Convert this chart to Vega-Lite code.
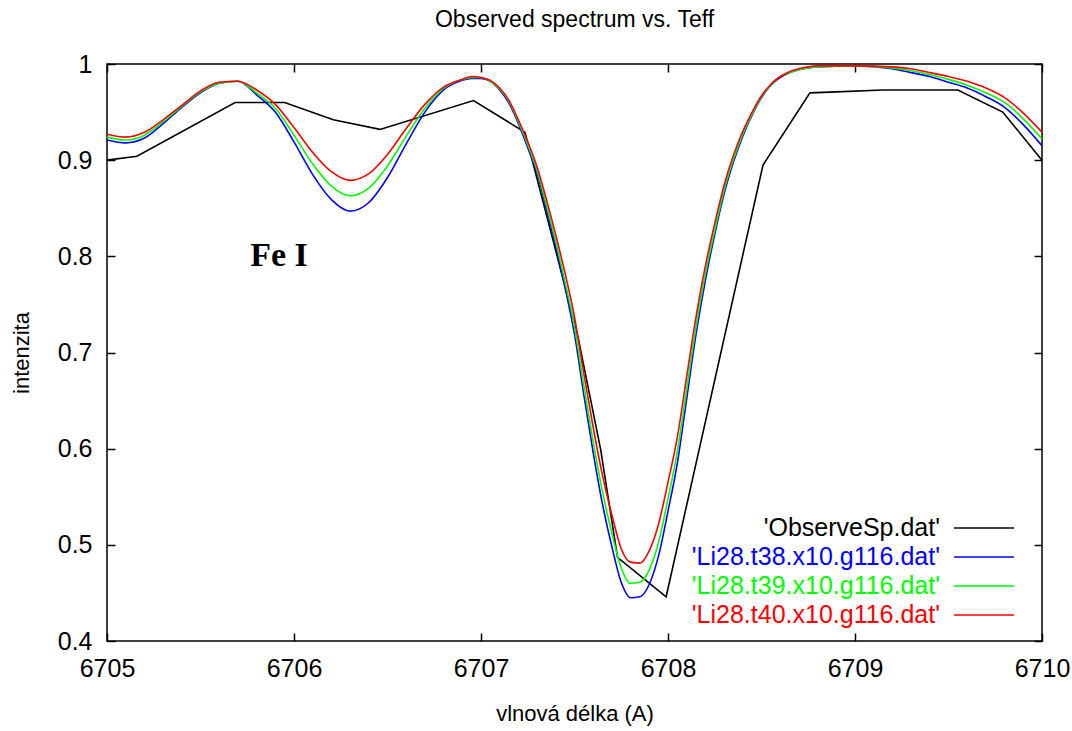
{
 "$schema": "https://vega.github.io/schema/vega-lite/v6.json",
 "width": 935, "height": 577,
 "autosize": "none",
 "padding": {"left": 107, "top": 64, "right": 30, "bottom": 90},
 "background": "white",
 "title": {"text": "Observed spectrum vs. Teff", "font": "Liberation Sans", "fontSize": 23, "fontWeight": "normal", "color": "black", "offset": 20},
 "config": {
  "view": {"stroke": "black", "strokeWidth": 1.5},
  "axis": {"grid": false, "domain": false, "tickColor": "black", "tickSize": -8, "tickWidth": 1.5, "labelFlush": false, "labelFont": "Liberation Sans", "labelFontSize": 25, "labelColor": "black", "titleFont": "Liberation Sans", "titleFontSize": 22, "titleFontWeight": "normal", "titleColor": "black"}
 },
 "resolve": {"axis": {"x": "independent", "y": "independent"}},
 "datasets": {
  "spec": [
   {"s": "'ObserveSp.dat'", "x": 6705.00, "y": 0.900}, {"s": "'ObserveSp.dat'", "x": 6705.16, "y": 0.904}, {"s": "'ObserveSp.dat'", "x": 6705.685, "y": 0.960}, {"s": "'ObserveSp.dat'", "x": 6705.95, "y": 0.960}, {"s": "'ObserveSp.dat'", "x": 6706.21, "y": 0.942}, {"s": "'ObserveSp.dat'", "x": 6706.46, "y": 0.932}, {"s": "'ObserveSp.dat'", "x": 6706.96, "y": 0.962}, {"s": "'ObserveSp.dat'", "x": 6707.235, "y": 0.929}, {"s": "'ObserveSp.dat'", "x": 6707.385, "y": 0.817}, {"s": "'ObserveSp.dat'", "x": 6707.52, "y": 0.715}, {"s": "'ObserveSp.dat'", "x": 6707.64, "y": 0.599}, {"s": "'ObserveSp.dat'", "x": 6707.73, "y": 0.487}, {"s": "'ObserveSp.dat'", "x": 6707.99, "y": 0.446}, {"s": "'ObserveSp.dat'", "x": 6708.508, "y": 0.895}, {"s": "'ObserveSp.dat'", "x": 6708.759, "y": 0.970}, {"s": "'ObserveSp.dat'", "x": 6708.90, "y": 0.971}, {"s": "'ObserveSp.dat'", "x": 6709.15, "y": 0.973}, {"s": "'ObserveSp.dat'", "x": 6709.55, "y": 0.973}, {"s": "'ObserveSp.dat'", "x": 6709.79, "y": 0.950}, {"s": "'ObserveSp.dat'", "x": 6710.00, "y": 0.900}
  ],
  "models": [
   {"s": "'Li28.t38.x10.g116.dat'", "x": 6705.0, "y": 0.921}, {"s": "'Li28.t38.x10.g116.dat'", "x": 6705.1, "y": 0.918}, {"s": "'Li28.t38.x10.g116.dat'", "x": 6705.2, "y": 0.923}, {"s": "'Li28.t38.x10.g116.dat'", "x": 6705.3, "y": 0.938}, {"s": "'Li28.t38.x10.g116.dat'", "x": 6705.4, "y": 0.955}, {"s": "'Li28.t38.x10.g116.dat'", "x": 6705.5, "y": 0.970}, {"s": "'Li28.t38.x10.g116.dat'", "x": 6705.6, "y": 0.980}, {"s": "'Li28.t38.x10.g116.dat'", "x": 6705.7, "y": 0.982}, {"s": "'Li28.t38.x10.g116.dat'", "x": 6705.8, "y": 0.968}, {"s": "'Li28.t38.x10.g116.dat'", "x": 6705.9, "y": 0.950}, {"s": "'Li28.t38.x10.g116.dat'", "x": 6706.0, "y": 0.919}, {"s": "'Li28.t38.x10.g116.dat'", "x": 6706.1, "y": 0.885}, {"s": "'Li28.t38.x10.g116.dat'", "x": 6706.2, "y": 0.859}, {"s": "'Li28.t38.x10.g116.dat'", "x": 6706.3, "y": 0.847}, {"s": "'Li28.t38.x10.g116.dat'", "x": 6706.4, "y": 0.856}, {"s": "'Li28.t38.x10.g116.dat'", "x": 6706.5, "y": 0.882}, {"s": "'Li28.t38.x10.g116.dat'", "x": 6706.6, "y": 0.917}, {"s": "'Li28.t38.x10.g116.dat'", "x": 6706.7, "y": 0.950}, {"s": "'Li28.t38.x10.g116.dat'", "x": 6706.8, "y": 0.973}, {"s": "'Li28.t38.x10.g116.dat'", "x": 6706.9, "y": 0.983}, {"s": "'Li28.t38.x10.g116.dat'", "x": 6706.95, "y": 0.985}, {"s": "'Li28.t38.x10.g116.dat'", "x": 6707.00, "y": 0.985}, {"s": "'Li28.t38.x10.g116.dat'", "x": 6707.05, "y": 0.982}, {"s": "'Li28.t38.x10.g116.dat'", "x": 6707.10, "y": 0.973}, {"s": "'Li28.t38.x10.g116.dat'", "x": 6707.15, "y": 0.959}, {"s": "'Li28.t38.x10.g116.dat'", "x": 6707.20, "y": 0.938}, {"s": "'Li28.t38.x10.g116.dat'", "x": 6707.25, "y": 0.913}, {"s": "'Li28.t38.x10.g116.dat'", "x": 6707.30, "y": 0.886}, {"s": "'Li28.t38.x10.g116.dat'", "x": 6707.35, "y": 0.849}, {"s": "'Li28.t38.x10.g116.dat'", "x": 6707.40, "y": 0.810}, {"s": "'Li28.t38.x10.g116.dat'", "x": 6707.45, "y": 0.767}, {"s": "'Li28.t38.x10.g116.dat'", "x": 6707.50, "y": 0.719}, {"s": "'Li28.t38.x10.g116.dat'", "x": 6707.55, "y": 0.656}, {"s": "'Li28.t38.x10.g116.dat'", "x": 6707.60, "y": 0.596}, {"s": "'Li28.t38.x10.g116.dat'", "x": 6707.65, "y": 0.542}, {"s": "'Li28.t38.x10.g116.dat'", "x": 6707.70, "y": 0.498}, {"s": "'Li28.t38.x10.g116.dat'", "x": 6707.75, "y": 0.461}, {"s": "'Li28.t38.x10.g116.dat'", "x": 6707.80, "y": 0.445}, {"s": "'Li28.t38.x10.g116.dat'", "x": 6707.85, "y": 0.446}, {"s": "'Li28.t38.x10.g116.dat'", "x": 6707.90, "y": 0.459}, {"s": "'Li28.t38.x10.g116.dat'", "x": 6707.95, "y": 0.489}, {"s": "'Li28.t38.x10.g116.dat'", "x": 6708.00, "y": 0.535}, {"s": "'Li28.t38.x10.g116.dat'", "x": 6708.05, "y": 0.585}, {"s": "'Li28.t38.x10.g116.dat'", "x": 6708.10, "y": 0.652}, {"s": "'Li28.t38.x10.g116.dat'", "x": 6708.15, "y": 0.719}, {"s": "'Li28.t38.x10.g116.dat'", "x": 6708.20, "y": 0.775}, {"s": "'Li28.t38.x10.g116.dat'", "x": 6708.25, "y": 0.823}, {"s": "'Li28.t38.x10.g116.dat'", "x": 6708.30, "y": 0.865}, {"s": "'Li28.t38.x10.g116.dat'", "x": 6708.35, "y": 0.898}, {"s": "'Li28.t38.x10.g116.dat'", "x": 6708.40, "y": 0.925}, {"s": "'Li28.t38.x10.g116.dat'", "x": 6708.45, "y": 0.947}, {"s": "'Li28.t38.x10.g116.dat'", "x": 6708.50, "y": 0.965}, {"s": "'Li28.t38.x10.g116.dat'", "x": 6708.55, "y": 0.978}, {"s": "'Li28.t38.x10.g116.dat'", "x": 6708.60, "y": 0.986}, {"s": "'Li28.t38.x10.g116.dat'", "x": 6708.65, "y": 0.991}, {"s": "'Li28.t38.x10.g116.dat'", "x": 6708.70, "y": 0.994}, {"s": "'Li28.t38.x10.g116.dat'", "x": 6708.75, "y": 0.996}, {"s": "'Li28.t38.x10.g116.dat'", "x": 6708.80, "y": 0.997}, {"s": "'Li28.t38.x10.g116.dat'", "x": 6709.00, "y": 0.998}, {"s": "'Li28.t38.x10.g116.dat'", "x": 6709.20, "y": 0.995}, {"s": "'Li28.t38.x10.g116.dat'", "x": 6709.30, "y": 0.991}, {"s": "'Li28.t38.x10.g116.dat'", "x": 6709.40, "y": 0.987}, {"s": "'Li28.t38.x10.g116.dat'", "x": 6709.50, "y": 0.981}, {"s": "'Li28.t38.x10.g116.dat'", "x": 6709.60, "y": 0.975}, {"s": "'Li28.t38.x10.g116.dat'", "x": 6709.70, "y": 0.966}, {"s": "'Li28.t38.x10.g116.dat'", "x": 6709.80, "y": 0.955}, {"s": "'Li28.t38.x10.g116.dat'", "x": 6709.90, "y": 0.937}, {"s": "'Li28.t38.x10.g116.dat'", "x": 6710.00, "y": 0.915},

   {"s": "'Li28.t39.x10.g116.dat'", "x": 6705.0, "y": 0.924}, {"s": "'Li28.t39.x10.g116.dat'", "x": 6705.1, "y": 0.921}, {"s": "'Li28.t39.x10.g116.dat'", "x": 6705.2, "y": 0.926}, {"s": "'Li28.t39.x10.g116.dat'", "x": 6705.3, "y": 0.940}, {"s": "'Li28.t39.x10.g116.dat'", "x": 6705.4, "y": 0.956}, {"s": "'Li28.t39.x10.g116.dat'", "x": 6705.5, "y": 0.971}, {"s": "'Li28.t39.x10.g116.dat'", "x": 6705.6, "y": 0.980}, {"s": "'Li28.t39.x10.g116.dat'", "x": 6705.7, "y": 0.982}, {"s": "'Li28.t39.x10.g116.dat'", "x": 6705.8, "y": 0.970}, {"s": "'Li28.t39.x10.g116.dat'", "x": 6705.9, "y": 0.954}, {"s": "'Li28.t39.x10.g116.dat'", "x": 6706.0, "y": 0.926}, {"s": "'Li28.t39.x10.g116.dat'", "x": 6706.1, "y": 0.896}, {"s": "'Li28.t39.x10.g116.dat'", "x": 6706.2, "y": 0.873}, {"s": "'Li28.t39.x10.g116.dat'", "x": 6706.3, "y": 0.863}, {"s": "'Li28.t39.x10.g116.dat'", "x": 6706.4, "y": 0.871}, {"s": "'Li28.t39.x10.g116.dat'", "x": 6706.5, "y": 0.894}, {"s": "'Li28.t39.x10.g116.dat'", "x": 6706.6, "y": 0.925}, {"s": "'Li28.t39.x10.g116.dat'", "x": 6706.7, "y": 0.954}, {"s": "'Li28.t39.x10.g116.dat'", "x": 6706.8, "y": 0.975}, {"s": "'Li28.t39.x10.g116.dat'", "x": 6706.9, "y": 0.984}, {"s": "'Li28.t39.x10.g116.dat'", "x": 6706.95, "y": 0.986}, {"s": "'Li28.t39.x10.g116.dat'", "x": 6707.00, "y": 0.986}, {"s": "'Li28.t39.x10.g116.dat'", "x": 6707.05, "y": 0.982}, {"s": "'Li28.t39.x10.g116.dat'", "x": 6707.10, "y": 0.974}, {"s": "'Li28.t39.x10.g116.dat'", "x": 6707.15, "y": 0.961}, {"s": "'Li28.t39.x10.g116.dat'", "x": 6707.20, "y": 0.940}, {"s": "'Li28.t39.x10.g116.dat'", "x": 6707.25, "y": 0.916}, {"s": "'Li28.t39.x10.g116.dat'", "x": 6707.30, "y": 0.889}, {"s": "'Li28.t39.x10.g116.dat'", "x": 6707.35, "y": 0.853}, {"s": "'Li28.t39.x10.g116.dat'", "x": 6707.40, "y": 0.815}, {"s": "'Li28.t39.x10.g116.dat'", "x": 6707.45, "y": 0.773}, {"s": "'Li28.t39.x10.g116.dat'", "x": 6707.50, "y": 0.727}, {"s": "'Li28.t39.x10.g116.dat'", "x": 6707.55, "y": 0.665}, {"s": "'Li28.t39.x10.g116.dat'", "x": 6707.60, "y": 0.607}, {"s": "'Li28.t39.x10.g116.dat'", "x": 6707.65, "y": 0.555}, {"s": "'Li28.t39.x10.g116.dat'", "x": 6707.70, "y": 0.512}, {"s": "'Li28.t39.x10.g116.dat'", "x": 6707.75, "y": 0.476}, {"s": "'Li28.t39.x10.g116.dat'", "x": 6707.80, "y": 0.460}, {"s": "'Li28.t39.x10.g116.dat'", "x": 6707.85, "y": 0.461}, {"s": "'Li28.t39.x10.g116.dat'", "x": 6707.90, "y": 0.474}, {"s": "'Li28.t39.x10.g116.dat'", "x": 6707.95, "y": 0.503}, {"s": "'Li28.t39.x10.g116.dat'", "x": 6708.00, "y": 0.548}, {"s": "'Li28.t39.x10.g116.dat'", "x": 6708.05, "y": 0.597}, {"s": "'Li28.t39.x10.g116.dat'", "x": 6708.10, "y": 0.662}, {"s": "'Li28.t39.x10.g116.dat'", "x": 6708.15, "y": 0.727}, {"s": "'Li28.t39.x10.g116.dat'", "x": 6708.20, "y": 0.782}, {"s": "'Li28.t39.x10.g116.dat'", "x": 6708.25, "y": 0.827}, {"s": "'Li28.t39.x10.g116.dat'", "x": 6708.30, "y": 0.869}, {"s": "'Li28.t39.x10.g116.dat'", "x": 6708.35, "y": 0.901}, {"s": "'Li28.t39.x10.g116.dat'", "x": 6708.40, "y": 0.927}, {"s": "'Li28.t39.x10.g116.dat'", "x": 6708.45, "y": 0.948}, {"s": "'Li28.t39.x10.g116.dat'", "x": 6708.50, "y": 0.966}, {"s": "'Li28.t39.x10.g116.dat'", "x": 6708.55, "y": 0.978}, {"s": "'Li28.t39.x10.g116.dat'", "x": 6708.60, "y": 0.987}, {"s": "'Li28.t39.x10.g116.dat'", "x": 6708.65, "y": 0.991}, {"s": "'Li28.t39.x10.g116.dat'", "x": 6708.70, "y": 0.994}, {"s": "'Li28.t39.x10.g116.dat'", "x": 6708.75, "y": 0.996}, {"s": "'Li28.t39.x10.g116.dat'", "x": 6708.80, "y": 0.997}, {"s": "'Li28.t39.x10.g116.dat'", "x": 6709.00, "y": 0.998}, {"s": "'Li28.t39.x10.g116.dat'", "x": 6709.20, "y": 0.996}, {"s": "'Li28.t39.x10.g116.dat'", "x": 6709.30, "y": 0.993}, {"s": "'Li28.t39.x10.g116.dat'", "x": 6709.40, "y": 0.989}, {"s": "'Li28.t39.x10.g116.dat'", "x": 6709.50, "y": 0.984}, {"s": "'Li28.t39.x10.g116.dat'", "x": 6709.60, "y": 0.978}, {"s": "'Li28.t39.x10.g116.dat'", "x": 6709.70, "y": 0.970}, {"s": "'Li28.t39.x10.g116.dat'", "x": 6709.80, "y": 0.960}, {"s": "'Li28.t39.x10.g116.dat'", "x": 6709.90, "y": 0.943}, {"s": "'Li28.t39.x10.g116.dat'", "x": 6710.00, "y": 0.922},

   {"s": "'Li28.t40.x10.g116.dat'", "x": 6705.0, "y": 0.927}, {"s": "'Li28.t40.x10.g116.dat'", "x": 6705.1, "y": 0.924}, {"s": "'Li28.t40.x10.g116.dat'", "x": 6705.2, "y": 0.929}, {"s": "'Li28.t40.x10.g116.dat'", "x": 6705.3, "y": 0.942}, {"s": "'Li28.t40.x10.g116.dat'", "x": 6705.4, "y": 0.957}, {"s": "'Li28.t40.x10.g116.dat'", "x": 6705.5, "y": 0.972}, {"s": "'Li28.t40.x10.g116.dat'", "x": 6705.6, "y": 0.981}, {"s": "'Li28.t40.x10.g116.dat'", "x": 6705.7, "y": 0.982}, {"s": "'Li28.t40.x10.g116.dat'", "x": 6705.8, "y": 0.973}, {"s": "'Li28.t40.x10.g116.dat'", "x": 6705.9, "y": 0.958}, {"s": "'Li28.t40.x10.g116.dat'", "x": 6706.0, "y": 0.934}, {"s": "'Li28.t40.x10.g116.dat'", "x": 6706.1, "y": 0.908}, {"s": "'Li28.t40.x10.g116.dat'", "x": 6706.2, "y": 0.888}, {"s": "'Li28.t40.x10.g116.dat'", "x": 6706.3, "y": 0.879}, {"s": "'Li28.t40.x10.g116.dat'", "x": 6706.4, "y": 0.886}, {"s": "'Li28.t40.x10.g116.dat'", "x": 6706.5, "y": 0.906}, {"s": "'Li28.t40.x10.g116.dat'", "x": 6706.6, "y": 0.933}, {"s": "'Li28.t40.x10.g116.dat'", "x": 6706.7, "y": 0.958}, {"s": "'Li28.t40.x10.g116.dat'", "x": 6706.8, "y": 0.976}, {"s": "'Li28.t40.x10.g116.dat'", "x": 6706.9, "y": 0.984}, {"s": "'Li28.t40.x10.g116.dat'", "x": 6706.95, "y": 0.987}, {"s": "'Li28.t40.x10.g116.dat'", "x": 6707.00, "y": 0.986}, {"s": "'Li28.t40.x10.g116.dat'", "x": 6707.05, "y": 0.983}, {"s": "'Li28.t40.x10.g116.dat'", "x": 6707.10, "y": 0.975}, {"s": "'Li28.t40.x10.g116.dat'", "x": 6707.15, "y": 0.962}, {"s": "'Li28.t40.x10.g116.dat'", "x": 6707.20, "y": 0.942}, {"s": "'Li28.t40.x10.g116.dat'", "x": 6707.25, "y": 0.919}, {"s": "'Li28.t40.x10.g116.dat'", "x": 6707.30, "y": 0.893}, {"s": "'Li28.t40.x10.g116.dat'", "x": 6707.35, "y": 0.859}, {"s": "'Li28.t40.x10.g116.dat'", "x": 6707.40, "y": 0.822}, {"s": "'Li28.t40.x10.g116.dat'", "x": 6707.45, "y": 0.782}, {"s": "'Li28.t40.x10.g116.dat'", "x": 6707.50, "y": 0.737}, {"s": "'Li28.t40.x10.g116.dat'", "x": 6707.55, "y": 0.678}, {"s": "'Li28.t40.x10.g116.dat'", "x": 6707.60, "y": 0.622}, {"s": "'Li28.t40.x10.g116.dat'", "x": 6707.65, "y": 0.572}, {"s": "'Li28.t40.x10.g116.dat'", "x": 6707.70, "y": 0.531}, {"s": "'Li28.t40.x10.g116.dat'", "x": 6707.75, "y": 0.496}, {"s": "'Li28.t40.x10.g116.dat'", "x": 6707.80, "y": 0.482}, {"s": "'Li28.t40.x10.g116.dat'", "x": 6707.85, "y": 0.481}, {"s": "'Li28.t40.x10.g116.dat'", "x": 6707.90, "y": 0.494}, {"s": "'Li28.t40.x10.g116.dat'", "x": 6707.95, "y": 0.522}, {"s": "'Li28.t40.x10.g116.dat'", "x": 6708.00, "y": 0.565}, {"s": "'Li28.t40.x10.g116.dat'", "x": 6708.05, "y": 0.612}, {"s": "'Li28.t40.x10.g116.dat'", "x": 6708.10, "y": 0.675}, {"s": "'Li28.t40.x10.g116.dat'", "x": 6708.15, "y": 0.737}, {"s": "'Li28.t40.x10.g116.dat'", "x": 6708.20, "y": 0.790}, {"s": "'Li28.t40.x10.g116.dat'", "x": 6708.25, "y": 0.834}, {"s": "'Li28.t40.x10.g116.dat'", "x": 6708.30, "y": 0.874}, {"s": "'Li28.t40.x10.g116.dat'", "x": 6708.35, "y": 0.905}, {"s": "'Li28.t40.x10.g116.dat'", "x": 6708.40, "y": 0.930}, {"s": "'Li28.t40.x10.g116.dat'", "x": 6708.45, "y": 0.950}, {"s": "'Li28.t40.x10.g116.dat'", "x": 6708.50, "y": 0.967}, {"s": "'Li28.t40.x10.g116.dat'", "x": 6708.55, "y": 0.979}, {"s": "'Li28.t40.x10.g116.dat'", "x": 6708.60, "y": 0.987}, {"s": "'Li28.t40.x10.g116.dat'", "x": 6708.65, "y": 0.992}, {"s": "'Li28.t40.x10.g116.dat'", "x": 6708.70, "y": 0.995}, {"s": "'Li28.t40.x10.g116.dat'", "x": 6708.75, "y": 0.997}, {"s": "'Li28.t40.x10.g116.dat'", "x": 6708.80, "y": 0.998}, {"s": "'Li28.t40.x10.g116.dat'", "x": 6709.00, "y": 0.998}, {"s": "'Li28.t40.x10.g116.dat'", "x": 6709.20, "y": 0.997}, {"s": "'Li28.t40.x10.g116.dat'", "x": 6709.30, "y": 0.995}, {"s": "'Li28.t40.x10.g116.dat'", "x": 6709.40, "y": 0.991}, {"s": "'Li28.t40.x10.g116.dat'", "x": 6709.50, "y": 0.987}, {"s": "'Li28.t40.x10.g116.dat'", "x": 6709.60, "y": 0.982}, {"s": "'Li28.t40.x10.g116.dat'", "x": 6709.70, "y": 0.975}, {"s": "'Li28.t40.x10.g116.dat'", "x": 6709.80, "y": 0.965}, {"s": "'Li28.t40.x10.g116.dat'", "x": 6709.90, "y": 0.949}, {"s": "'Li28.t40.x10.g116.dat'", "x": 6710.00, "y": 0.929}
  ],
  "notes": [{"x": 6705.92, "y": 0.80, "t": "Fe I"}]
 },
 "layer": [
  {
   "data": {"name": "spec"},
   "mark": {"type": "line", "strokeWidth": 1.6, "clip": true},
   "encoding": {
    "x": {"field": "x", "type": "quantitative", "scale": {"domain": [6705, 6710], "nice": false, "zero": false}, "axis": {"orient": "bottom", "values": [6705, 6706, 6707, 6708, 6709, 6710], "format": "d", "labelPadding": 23, "title": "vlnová délka (A)", "titlePadding": 22}},
    "y": {"field": "y", "type": "quantitative", "scale": {"domain": [0.4, 1], "nice": false, "zero": false}, "axis": {"orient": "left", "values": [0.4, 0.5, 0.6, 0.7, 0.8, 0.9, 1], "format": "~g", "labelPadding": 23, "title": "intenzita", "titlePadding": 24}},
    "color": {"field": "s", "type": "nominal", "scale": {"domain": ["'ObserveSp.dat'", "'Li28.t38.x10.g116.dat'", "'Li28.t39.x10.g116.dat'", "'Li28.t40.x10.g116.dat'"], "range": ["#000000", "#0000ff", "#00ff00", "#ff0000"]},
     "legend": {"title": null, "orient": "none", "legendX": 861, "legendY": 448, "padding": 0, "rowPadding": -1.4, "symbolType": "M-2,0H2", "symbolSize": 900, "symbolStrokeWidth": 1.6, "symbolOpacity": 1, "labelAlign": "right", "labelOffset": -60, "labelFont": "Liberation Sans", "labelFontSize": 25, "labelLimit": 600,
      "encode": {"labels": {"update": {"fill": {"scale": "color", "field": "value"}}}}}}
   }
  },
  {
   "data": {"name": "models"},
   "mark": {"type": "line", "strokeWidth": 1.6, "interpolate": "monotone", "clip": true},
   "encoding": {
    "x": {"field": "x", "type": "quantitative", "axis": null},
    "y": {"field": "y", "type": "quantitative", "axis": null},
    "color": {"field": "s", "type": "nominal"}
   }
  },
  {
   "data": {"name": "notes"},
   "mark": {"type": "text", "font": "Liberation Serif", "fontSize": 34, "fontWeight": "bold", "color": "black"},
   "encoding": {
    "x": {"field": "x", "type": "quantitative", "axis": {"orient": "top", "values": [6705, 6706, 6707, 6708, 6709, 6710], "labels": false, "title": null}},
    "y": {"field": "y", "type": "quantitative", "axis": {"orient": "right", "values": [0.4, 0.5, 0.6, 0.7, 0.8, 0.9, 1], "labels": false, "title": null}},
    "text": {"field": "t"}
   }
  }
 ]
}
